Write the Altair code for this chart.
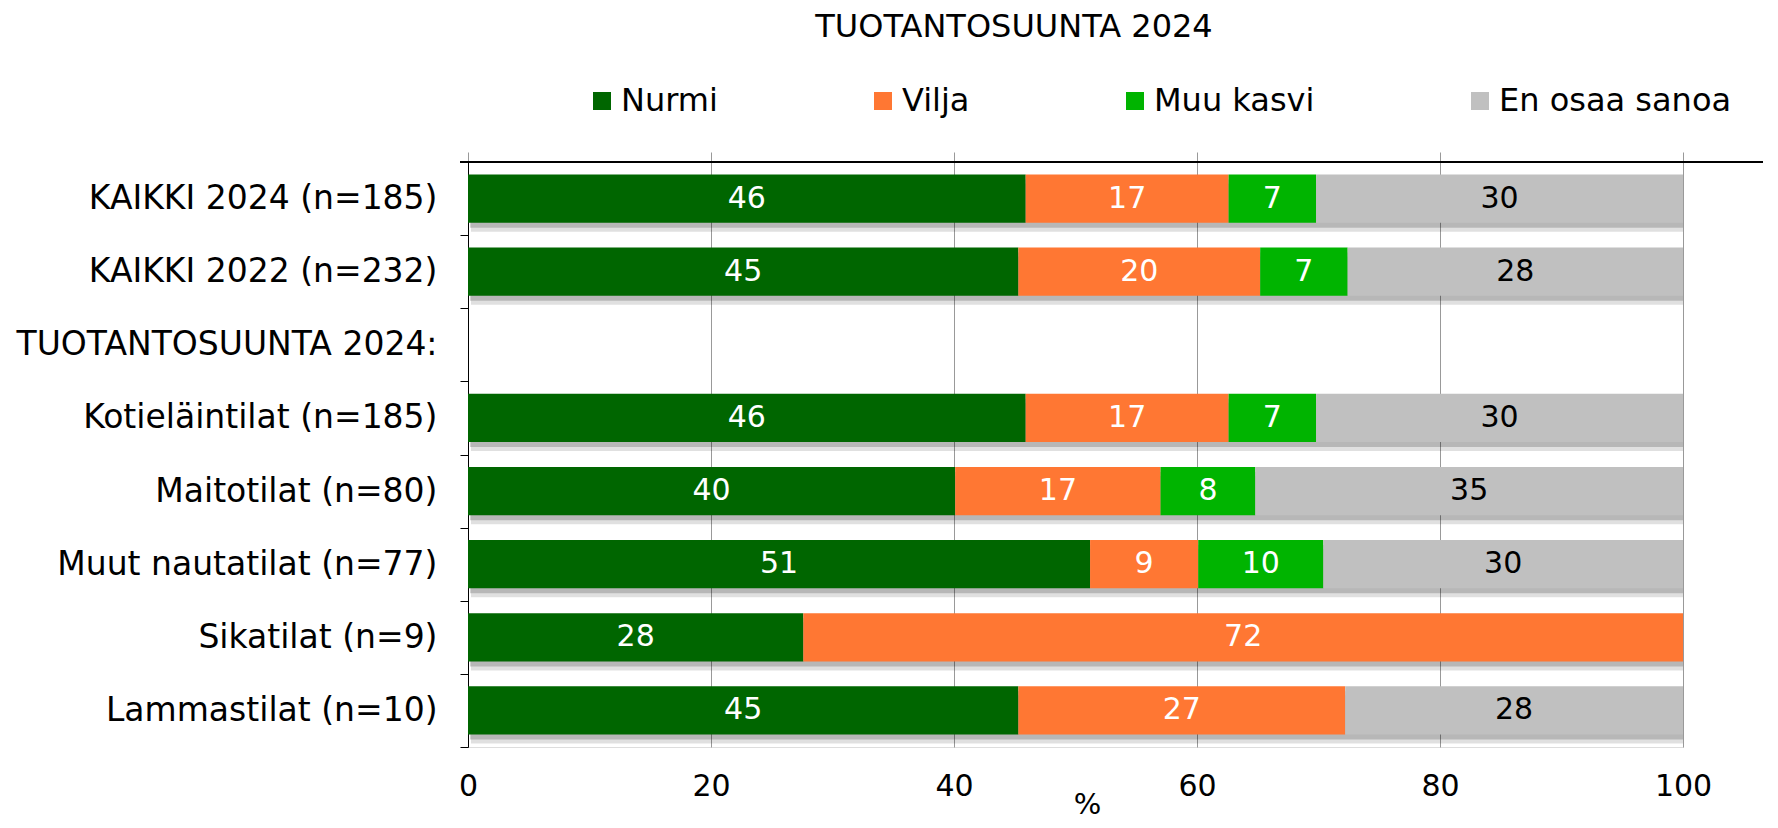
import altair as alt
import pandas as pd

FONT = "DejaVu Sans"

title_text = "TUOTANTOSUUNTA 2024"
categories = [
    "KAIKKI 2024 (n=185)",
    "KAIKKI 2022 (n=232)",
    "TUOTANTOSUUNTA 2024:",
    "Kotieläintilat (n=185)",
    "Maitotilat (n=80)",
    "Muut nautatilat (n=77)",
    "Sikatilat (n=9)",
    "Lammastilat (n=10)",
]
series = ["Nurmi", "Vilja", "Muu kasvi", "En osaa sanoa"]
colors = ["#006600", "#ff7733", "#00b400", "#c0c0c0"]
label_colors = ["white", "white", "white", "black"]

nurmi = [45.9, 45.3, None, 45.9, 40.1, 51.2, 27.6, 45.3]
vilja = [16.7, 19.9, None, 16.7, 16.9, 8.9, 72.4, 26.9]
muu_kasvi = [7.2, 7.2, None, 7.2, 7.8, 10.3, 0, 0]
en_osaa = [30.2, 27.6, None, 30.2, 35.2, 29.6, 0, 27.8]
x_ticks = [0, 20, 40, 60, 80, 100]

values_by_series = [nurmi, vilja, muu_kasvi, en_osaa]

rows = []
totals = []
for ci, cat in enumerate(categories):
    start = 0.0
    tot = 0.0
    has = False
    for si, s in enumerate(series):
        v = values_by_series[si][ci]
        if v is None or v == 0:
            continue
        has = True
        rows.append({
            "category": cat, "series": s, "value": v,
            "start": start, "end": start + v, "mid": start + v / 2,
            "label": str(int(round(v))), "tcolor": label_colors[si],
            "order": si,
        })
        start += v
        tot += v
    if has:
        totals.append({"category": cat, "zero": 0.0, "total": tot})

df = pd.DataFrame(rows)
tdf = pd.DataFrame(totals)
title_df = pd.DataFrame({"t": [title_text]})

BAR_BAND = 0.66

x_scale = alt.Scale(domain=[0, 100], nice=False, zero=True)
y_scale = alt.Scale(domain=categories, paddingInner=0, paddingOuter=0)

y_axis = alt.Axis(
    title=None, labelFontSize=33, labelFont=FONT, labelColor="black",
    labelPadding=23, tickSize=8, tickColor="black", domainColor="black",
    tickBand="extent", labelLimit=700, grid=False, domainWidth=1,
)
y_enc = alt.Y("category:N", scale=y_scale, axis=y_axis)

# shadows
shadow1 = alt.Chart(tdf).mark_bar(
    color="black", opacity=0.18, xOffset=2, yOffset=5,
    height=alt.RelativeBandSize(BAR_BAND),
).encode(
    x=alt.X("zero:Q", scale=x_scale,
            axis=alt.Axis(orient="top", labels=False, ticks=True, tickSize=10,
                          tickColor="#999999", domain=False, grid=False,
                          title=None, values=x_ticks)),
    x2="total:Q",
    y=y_enc,
)
shadow2 = alt.Chart(tdf).mark_bar(
    color="black", opacity=0.12, xOffset=3, yOffset=9,
    height=alt.RelativeBandSize(BAR_BAND),
).encode(
    x=alt.X("zero:Q", scale=x_scale, axis=None),
    x2="total:Q",
    y=y_enc,
)

bars = alt.Chart(df).mark_bar(height=alt.RelativeBandSize(BAR_BAND)).encode(
    x=alt.X("start:Q", scale=x_scale,
            axis=alt.Axis(values=x_ticks, orient="bottom", title="%",
                          labelFontSize=30, labelFont=FONT, labelColor="black",
                          labelFlush=False,
                          ticks=False, domain=False, grid=True,
                          gridColor="#999999", gridWidth=1, labelPadding=24,
                          titleFontSize=29, titleFont=FONT, titleFontWeight="normal",
                          titleColor="black", titleY=66, titleX=619,
                          titleAlign="center", titleBaseline="alphabetic")),
    x2="end:Q",
    y=y_enc,
    color=alt.Color("series:N", scale=alt.Scale(domain=series, range=colors),
                    legend=alt.Legend(orient="none", legendX=118, legendY=-77,
                                      direction="horizontal", title=None,
                                      symbolType="square", symbolSize=324,
                                      symbolStrokeWidth=0, labelFontSize=32,
                                      labelFont=FONT, labelColor="black",
                                      labelOffset=3, columnPadding=149,
                                      padding=0, labelLimit=400)),
    order=alt.Order("order:Q"),
)

texts = alt.Chart(df).mark_text(fontSize=30, font=FONT, baseline="middle", align="center").encode(
    x=alt.X("mid:Q", scale=x_scale, axis=None),
    y=y_enc,
    text="label:N",
    color=alt.Color("tcolor:N", scale=None),
)

top_rule = alt.Chart(tdf).mark_rule(color="black", strokeWidth=1.5).encode(
    x=alt.value(-8), x2=alt.value(1300), y=alt.value(0)
)

title_mark = alt.Chart(title_df).mark_text(
    fontSize=32, font=FONT, color="black", align="center", baseline="middle"
).encode(text="t:N", x=alt.value(546), y=alt.value(-135))

chart = alt.layer(shadow1, shadow2, bars, texts, top_rule, title_mark).resolve_axis(
    x="independent"
).properties(
    width=1215,
    height=585,
    autosize=alt.AutoSizeParams(type="none"),
    padding={"left": 460, "top": 154, "right": 80, "bottom": 72},
).configure_view(stroke=None).configure(background="white")

chart.save("out.html", embed_options={"renderer": "svg", "actions": False})
